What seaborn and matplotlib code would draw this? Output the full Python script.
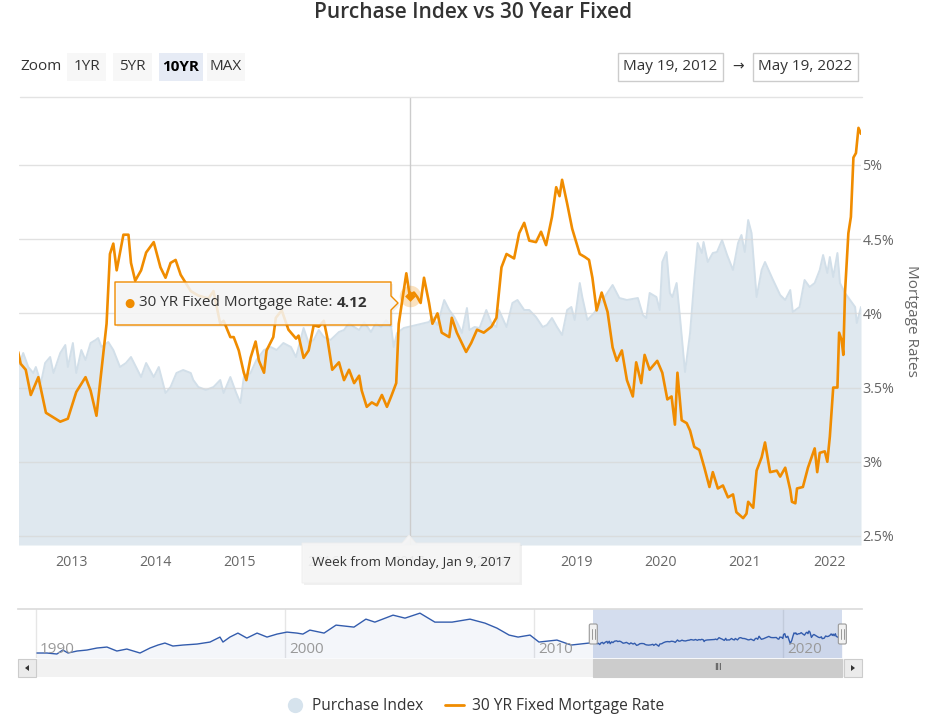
import numpy as np
import pandas as pd
import matplotlib
matplotlib.use("Agg")
import matplotlib.pyplot as plt
import matplotlib.transforms as mtransforms
from matplotlib.patches import Rectangle, Polygon, FancyBboxPatch
from matplotlib.lines import Line2D
from matplotlib.text import Annotation
import seaborn as sns

# 30 YR fixed mortgage rate (%), time as decimal year
rate_t = [2012.37, 2012.40, 2012.46, 2012.52, 2012.61, 2012.70, 2012.87, 2012.96,
          2013.06, 2013.17, 2013.23, 2013.30, 2013.36, 2013.42, 2013.46, 2013.50,
          2013.54, 2013.62, 2013.68, 2013.71, 2013.76, 2013.83, 2013.89, 2013.98,
          2014.06, 2014.12, 2014.18, 2014.24, 2014.30, 2014.42, 2014.51, 2014.63,
          2014.69, 2014.77, 2014.81, 2014.89, 2014.93, 2014.99,
          2015.05, 2015.08, 2015.13, 2015.19, 2015.23, 2015.29, 2015.32, 2015.40,
          2015.43, 2015.50, 2015.58, 2015.67, 2015.70, 2015.76, 2015.82, 2015.88, 2015.94,
          2016.00, 2016.04, 2016.10, 2016.18, 2016.24, 2016.30, 2016.36, 2016.42,
          2016.45, 2016.51, 2016.57, 2016.63, 2016.69, 2016.75, 2016.80, 2016.86,
          2016.89, 2016.98,
          2017.02, 2017.07, 2017.11, 2017.15, 2017.19, 2017.25, 2017.29, 2017.35,
          2017.40, 2017.49, 2017.52, 2017.58, 2017.69, 2017.75, 2017.82, 2017.90, 2017.99,
          2018.05, 2018.11, 2018.17, 2018.26, 2018.32, 2018.38, 2018.44, 2018.52,
          2018.58, 2018.64, 2018.71, 2018.76, 2018.80, 2018.83, 2018.89, 2018.95,
          2019.04, 2019.10, 2019.15, 2019.19, 2019.24, 2019.30, 2019.37, 2019.43,
          2019.48, 2019.54, 2019.60, 2019.67, 2019.71, 2019.77, 2019.81, 2019.87, 2019.96,
          2020.02, 2020.08, 2020.13, 2020.17, 2020.20, 2020.25, 2020.31, 2020.35,
          2020.40, 2020.46, 2020.52, 2020.58, 2020.62, 2020.68, 2020.74, 2020.80,
          2020.86, 2020.90, 2020.98,
          2021.02, 2021.04, 2021.10, 2021.14, 2021.20, 2021.24, 2021.30, 2021.38,
          2021.42, 2021.48, 2021.54, 2021.56, 2021.60, 2021.62, 2021.69, 2021.75,
          2021.83, 2021.86, 2021.89, 2021.95, 2021.98,
          2022.01, 2022.05, 2022.10, 2022.12, 2022.15, 2022.17, 2022.19, 2022.23,
          2022.26, 2022.29, 2022.32, 2022.35, 2022.38]
rate_v = [3.74, 3.66, 3.62, 3.45, 3.57, 3.33, 3.27, 3.29,
          3.47, 3.57, 3.48, 3.31, 3.62, 3.93, 4.40, 4.47,
          4.29, 4.53, 4.53, 4.34, 4.22, 4.29, 4.41, 4.48,
          4.31, 4.24, 4.34, 4.36, 4.26, 4.15, 4.12, 4.10,
          4.15, 3.93, 3.95, 3.84, 3.84, 3.75,
          3.60, 3.55, 3.70, 3.81, 3.68, 3.60, 3.75, 3.84,
          3.97, 4.02, 3.89, 3.83, 3.85, 3.70, 3.75, 3.92, 3.91,
          3.95, 3.84, 3.62, 3.67, 3.55, 3.62, 3.53, 3.58,
          3.48, 3.37, 3.40, 3.38, 3.45, 3.37, 3.44, 3.53,
          3.93, 4.27,
          4.12, 4.14, 4.11, 4.07, 4.24, 4.07, 3.93, 4.00,
          3.87, 3.84, 3.97, 3.87, 3.74, 3.80, 3.89, 3.87, 3.91,
          3.97, 4.31, 4.40, 4.37, 4.54, 4.61, 4.49, 4.48,
          4.55, 4.46, 4.65, 4.85, 4.79, 4.90, 4.74, 4.57,
          4.40, 4.38, 4.36, 4.24, 4.02, 4.14, 4.01, 3.77,
          3.68, 3.75, 3.55, 3.44, 3.67, 3.53, 3.72, 3.62, 3.68,
          3.60, 3.42, 3.44, 3.25, 3.60, 3.28, 3.26, 3.21,
          3.10, 3.08, 2.96, 2.83, 2.93, 2.82, 2.84, 2.76,
          2.78, 2.66, 2.62,
          2.65, 2.73, 2.69, 2.94, 3.03, 3.13, 2.93, 2.94,
          2.90, 2.96, 2.81, 2.73, 2.72, 2.82, 2.83, 2.96,
          3.09, 2.93, 3.06, 3.07, 3.00,
          3.17, 3.50, 3.50, 3.87, 3.82, 3.72, 4.14, 4.54,
          4.65, 5.05, 5.08, 5.25, 5.21]

# Purchase index (area, hidden axis), same window
pi_t = [2012.37, 2012.43, 2012.49, 2012.55, 2012.58, 2012.64, 2012.69, 2012.75,
        2012.79, 2012.87, 2012.93, 2012.96, 2013.02, 2013.06, 2013.12, 2013.17,
        2013.23, 2013.29, 2013.32, 2013.36, 2013.44, 2013.50, 2013.58, 2013.65,
        2013.71, 2013.77, 2013.83, 2013.89, 2013.98, 2014.04, 2014.12, 2014.18,
        2014.25, 2014.33, 2014.42, 2014.45, 2014.51, 2014.60, 2014.69, 2014.77,
        2014.81, 2014.89, 2014.96, 2015.01, 2015.05, 2015.13, 2015.20, 2015.29,
        2015.37, 2015.44, 2015.52, 2015.61, 2015.67, 2015.76, 2015.82, 2015.88,
        2015.94, 2016.00, 2016.08, 2016.18, 2016.24, 2016.30, 2016.36, 2016.42,
        2016.48, 2016.56, 2016.62, 2016.68, 2016.74, 2016.80, 2016.83, 2016.87,
        2016.95, 2017.25, 2017.29, 2017.35, 2017.43, 2017.49, 2017.55, 2017.61,
        2017.64, 2017.70, 2017.73, 2017.79, 2017.85, 2017.93, 2017.99, 2018.05,
        2018.08, 2018.17, 2018.24, 2018.30, 2018.38, 2018.44, 2018.52, 2018.60,
        2018.65, 2018.71, 2018.77, 2018.83, 2018.89, 2018.94, 2018.98, 2019.04,
        2019.07, 2019.13, 2019.21, 2019.31, 2019.43, 2019.51, 2019.60, 2019.73,
        2019.79, 2019.83, 2019.87, 2019.95, 2019.99, 2020.02, 2020.07, 2020.11,
        2020.14, 2020.19, 2020.23, 2020.29, 2020.35, 2020.40, 2020.44, 2020.49,
        2020.51, 2020.56, 2020.62, 2020.67, 2020.73, 2020.79, 2020.86, 2020.92,
        2020.96, 2021.00, 2021.04, 2021.08, 2021.14, 2021.20, 2021.24, 2021.33,
        2021.42, 2021.48, 2021.54, 2021.57, 2021.65, 2021.71, 2021.77, 2021.83,
        2021.89, 2021.93, 2021.98, 2022.01, 2022.05, 2022.10, 2022.13, 2022.19,
        2022.25, 2022.31, 2022.33, 2022.38]
pi_v = [178, 192, 178, 172, 178, 162, 182, 188,
        172, 192, 200, 178, 202, 172, 195, 185,
        202, 205, 207, 198, 203, 195, 178, 182,
        188, 178, 168, 182, 168, 178, 152, 158,
        172, 175, 172, 165, 158, 155, 158, 165,
        152, 168, 152, 142, 168, 172, 185, 195,
        198, 195, 202, 198, 188, 217, 202, 205,
        215, 208, 205, 213, 215, 222, 218, 215,
        223, 213, 222, 218, 225, 218, 198, 212,
        217, 223, 228, 220, 245, 235, 228, 218,
        212, 237, 215, 218, 217, 235, 222, 218,
        235, 218, 242, 245, 235, 235, 228, 218,
        220, 227, 218, 210, 235, 238, 225, 262,
        248, 225, 232, 245, 260, 247, 245, 247,
        230, 227, 252, 248, 235, 283, 293, 252,
        248, 262, 228, 173, 212, 265, 302, 292,
        303, 283, 292, 293, 305, 290, 275, 302,
        310, 293, 325, 312, 248, 275, 283, 266,
        250, 245, 255, 233, 238, 265, 258, 262,
        275, 290, 272, 288, 268, 292, 262, 252,
        245, 238, 222, 238]

# Purchase index history shown in the navigator before the window
hist_t = [1990.04, 1990.44, 1990.84, 1991.08, 1991.29, 1991.65, 1992.05, 1992.45,
          1992.85, 1993.25, 1993.65, 1994.18, 1994.58, 1994.90, 1995.18, 1995.50,
          1995.90, 1996.47, 1996.99, 1997.39, 1997.51, 1997.79, 1998.11, 1998.47,
          1998.88, 1999.28, 1999.68, 2000.08, 2000.48, 2000.72, 2001.00, 2001.57,
          2002.05, 2002.77, 2003.25, 2003.61, 2004.34, 2004.82, 2005.42, 2006.02,
          2006.71, 2007.43, 2008.03, 2008.51, 2009.00, 2009.36, 2009.84, 2010.20,
          2010.92, 2011.49, 2012.21]
hist_v = [60, 60, 48, 96, 60, 84, 96, 120,
          132, 84, 108, 60, 120, 156, 180, 144,
          156, 168, 192, 252, 192, 252, 300, 240,
          300, 252, 288, 312, 300, 288, 336, 300,
          396, 372, 468, 432, 516, 480, 540, 432,
          432, 468, 420, 360, 276, 252, 276, 192,
          216, 156, 180]

year_ticks = list(range(2013, 2023))
rate_ticks = [2.5, 3, 3.5, 4, 4.5, 5]
nav_years = [1990, 2000, 2010, 2020]
zoom_buttons = ["1YR", "5YR", "10YR", "MAX"]
selected_button = "10YR"
range_from = "May 19, 2012"
range_to = "May 19, 2022"
view_start, view_end = 2012.38, 2022.38
hover_t, hover_v = 2017.02, 4.12
hover_week = "Week from Monday, Jan 9, 2017"

ORANGE = "#f08c00"
AREA = "#dfe8ef"
AREA_LINE = "#d2dfe9"
NAV = "#335cad"
TXT = "#333333"
GREY = "#666666"

sns.set_theme(style="white")
plt.rcParams["font.family"] = ["Open Sans", "DejaVu Sans"]

W, H = 932, 725
fig = plt.figure(figsize=(W / 100, H / 100), dpi=100)
fig.patch.set_facecolor("white")
# pixel coords (x from left, y from top) -> figure
T = mtransforms.Affine2D().scale(1 / W, -1 / H).translate(0, 1) + fig.transFigure

# ---- main plot: area on a hidden axis, rates on the right axis
rect = [19 / W, 1 - 545 / H, 842 / W, 448 / H]
ax_pi = fig.add_axes(rect)
ax = fig.add_axes(rect, sharex=ax_pi)
ax.patch.set_alpha(0)

ax_pi.fill_between(pi_t, pi_v, 0, color=AREA, lw=0)
sns.lineplot(x=pi_t, y=pi_v, ax=ax_pi, color=AREA_LINE, linewidth=1.4, estimator=None)
ax_pi.set_ylim(0, 448)
ax_pi.tick_params(left=False, labelleft=False, bottom=False, labelbottom=False)

ax.axvline(hover_t, color="#cccccc", lw=1, zorder=1)
sns.lineplot(x=rate_t, y=rate_v, ax=ax, color=ORANGE, linewidth=1.9, estimator=None, zorder=3)
ax.scatter([hover_t], [hover_v], s=240, color=ORANGE, alpha=0.25, lw=0, zorder=4)
ax.scatter([hover_t], [hover_v], s=30, marker="D", color=ORANGE, lw=0, zorder=5)

ax.set_xlim(view_start, view_end)
ax.set_ylim(2.439, 5.458)
ax.set_yticks(rate_ticks)
ax.set_yticklabels([f"{r:g}%" for r in rate_ticks])
ax.yaxis.tick_right()
ax.set_xticks(year_ticks)
ax.set_xticklabels([str(y) for y in year_ticks])
ax.tick_params(axis="y", length=0, pad=1, labelsize=10.3, labelcolor=GREY)
ax.tick_params(axis="x", length=0, pad=7, labelsize=10.2, labelcolor=GREY)
ax.tick_params(labelbottom=True)
ax.grid(axis="y", color="#d8d8d8", lw=1, alpha=0.75)
ax.grid(axis="x", visible=False)
ax.set_xlabel("")
ax.set_ylabel("")
ax_pi.set_xlabel("")
ax_pi.set_ylabel("")
for a in (ax, ax_pi):
    for s in a.spines.values():
        s.set_visible(False)
fig.add_artist(Line2D([20, 862], [97, 97], transform=T, color="#e3e3e3", lw=1))

fig.text(912, 321, "Mortgage Rates", transform=T, rotation=270, ha="center",
         va="center", fontsize=11, color=GREY)

# ---- title and range selector
fig.text(473, 12, "Purchase Index vs 30 Year Fixed", transform=T, ha="center",
         va="center", fontsize=15, fontweight="semibold", color=TXT)
fig.text(20, 67, "Zoom", transform=T, ha="left", va="center", fontsize=11, color=TXT)
btn_x = [67, 113, 159, 207]
btn_w = [39, 39, 44, 38]
for label, bx, bw in zip(zoom_buttons, btn_x, btn_w):
    sel = label == selected_button
    fig.add_artist(Rectangle((bx, 53), bw, 28, transform=T, lw=0,
                             facecolor="#e6ebf5" if sel else "#f7f7f7"))
    fig.text(bx + bw / 2, 67, label, transform=T, ha="center", va="center",
             fontsize=11, color="#000000" if sel else TXT,
             fontweight="bold" if sel else "normal")
for txt, bx in ((range_from, 618), (range_to, 753)):
    fig.add_artist(Rectangle((bx, 53), 105, 28, transform=T, facecolor="white",
                             edgecolor="#cccccc", lw=1))
    fig.text(bx + 52.5, 67, txt, transform=T, ha="center", va="center",
             fontsize=11, color=TXT)
fig.text(738, 67, "\u2192", transform=T, ha="center", va="center", fontsize=10, color=TXT)

# ---- tooltips
tip = [(115, 282), (391, 282), (391, 296), (398, 303), (391, 310), (391, 325), (115, 325)]
fig.add_artist(Polygon([(x + 2, y + 2) for x, y in tip], closed=True, transform=T,
                       facecolor="black", alpha=0.06, lw=0))
fig.add_artist(Polygon(tip, closed=True, transform=T, facecolor=(0.97, 0.97, 0.97, 0.86),
                       edgecolor=ORANGE, lw=1, joinstyle="round"))
fig.text(129, 303, "\u25cf", transform=T, ha="center", va="center", fontsize=8.5, color=ORANGE)
t1 = fig.text(139, 303, "30 YR Fixed Mortgage Rate: ", transform=T, ha="left",
              va="center", fontsize=11, color=TXT)
fig.add_artist(Annotation(f"{hover_v:.2f}", xy=(1, 0.5), xycoords=t1, ha="left",
                          va="center", fontsize=11, color=TXT, fontweight="bold"))

xtip = [(302, 543), (402, 543), (409, 535), (416, 543), (520, 543), (520, 583), (302, 583)]
fig.add_artist(Polygon([(x + 2, y + 2) for x, y in xtip], closed=True, transform=T,
                       facecolor="black", alpha=0.06, lw=0))
fig.add_artist(Polygon(xtip, closed=True, transform=T, facecolor=(0.965, 0.965, 0.965, 0.92),
                       edgecolor="#eeeeee", lw=0.6))
fig.text(411, 563, hover_week, transform=T, ha="center", va="center", fontsize=9.7, color=TXT)

# ---- navigator
axn = fig.add_axes([18 / W, 1 - 658 / H, 844 / W, 49 / H])
nav_t = hist_t + pi_t
nav_v = hist_v + pi_v
axn.set_xlim(1989.28, 2023.17)
axn.set_ylim(0, 590)
for yr in nav_years:
    axn.axvline(yr, color="#e6e6e6", lw=1, zorder=0)
    axn.annotate(str(yr), xy=(yr, 0), xycoords=("data", "axes fraction"),
                 xytext=(3, 1), textcoords="offset points", ha="left", va="bottom",
                 fontsize=11, color="#999999")
axn.fill_between(nav_t, nav_v, 0, color=NAV, alpha=0.05, lw=0)
sns.lineplot(x=nav_t, y=nav_v, ax=axn, color=NAV, linewidth=1, estimator=None)
axn.axvspan(view_start, view_end, color="#6685c2", alpha=0.28, lw=0)
axn.set_xticks([])
axn.set_yticks([])
axn.set_xlabel("")
axn.set_ylabel("")
for name, s in axn.spines.items():
    s.set_visible(name == "top")
    s.set_color("#dcdcdc")

fig.canvas.draw()
hx = axn.transData.transform([(view_start, 0), (view_end, 0)])[:, 0]

# scrollbar
fig.add_artist(Rectangle((18, 659), 844, 18, transform=T, facecolor="#f2f2f2", lw=0))
fig.add_artist(Rectangle((hx[0], 659), hx[1] - hx[0], 18, transform=T,
                         facecolor="#cccccc", edgecolor="#cccccc", lw=0.8))
fig.text((hx[0] + hx[1]) / 2, 668, "III", transform=T, ha="center", va="center",
         fontsize=6.5, color=TXT)
fig.add_artist(Rectangle((18, 659), 18, 18, transform=T, facecolor="#ebebeb",
                         edgecolor="#cccccc", lw=0.8))
fig.add_artist(Polygon([(25, 668), (29, 665), (29, 671)], transform=T, facecolor=TXT, lw=0))
fig.add_artist(Rectangle((844, 659), 18, 18, transform=T, facecolor="#ebebeb",
                         edgecolor="#cccccc", lw=0.8))
fig.add_artist(Polygon([(855, 668), (851, 665), (851, 671)], transform=T, facecolor=TXT, lw=0))

# navigator handles
for h in hx:
    fig.add_artist(FancyBboxPatch((h - 4, 624), 8, 20, transform=T,
                                  boxstyle="round,pad=0,rounding_size=1.5",
                                  facecolor="#f2f2f2", edgecolor="#999999", lw=0.8))
    for dx in (-1.5, 1.5):
        fig.add_artist(Line2D([h + dx, h + dx], [629, 639], transform=T,
                              color="#999999", lw=0.7))

# ---- legend
handles = [Line2D([], [], ls="none", marker="o", ms=11, markerfacecolor="#d6e3ed",
                  markeredgecolor="none"),
           Line2D([], [], color=ORANGE, lw=2)]
fig.legend(handles, ["Purchase Index", "30 YR Fixed Mortgage Rate"], loc="center",
           bbox_to_anchor=(475 / W, 1 - 706 / H), ncol=2, frameon=False,
           fontsize=11.2, labelcolor=TXT, handlelength=1.2, handletextpad=0.5,
           columnspacing=1.4)

fig.savefig("out.png", dpi=100)
